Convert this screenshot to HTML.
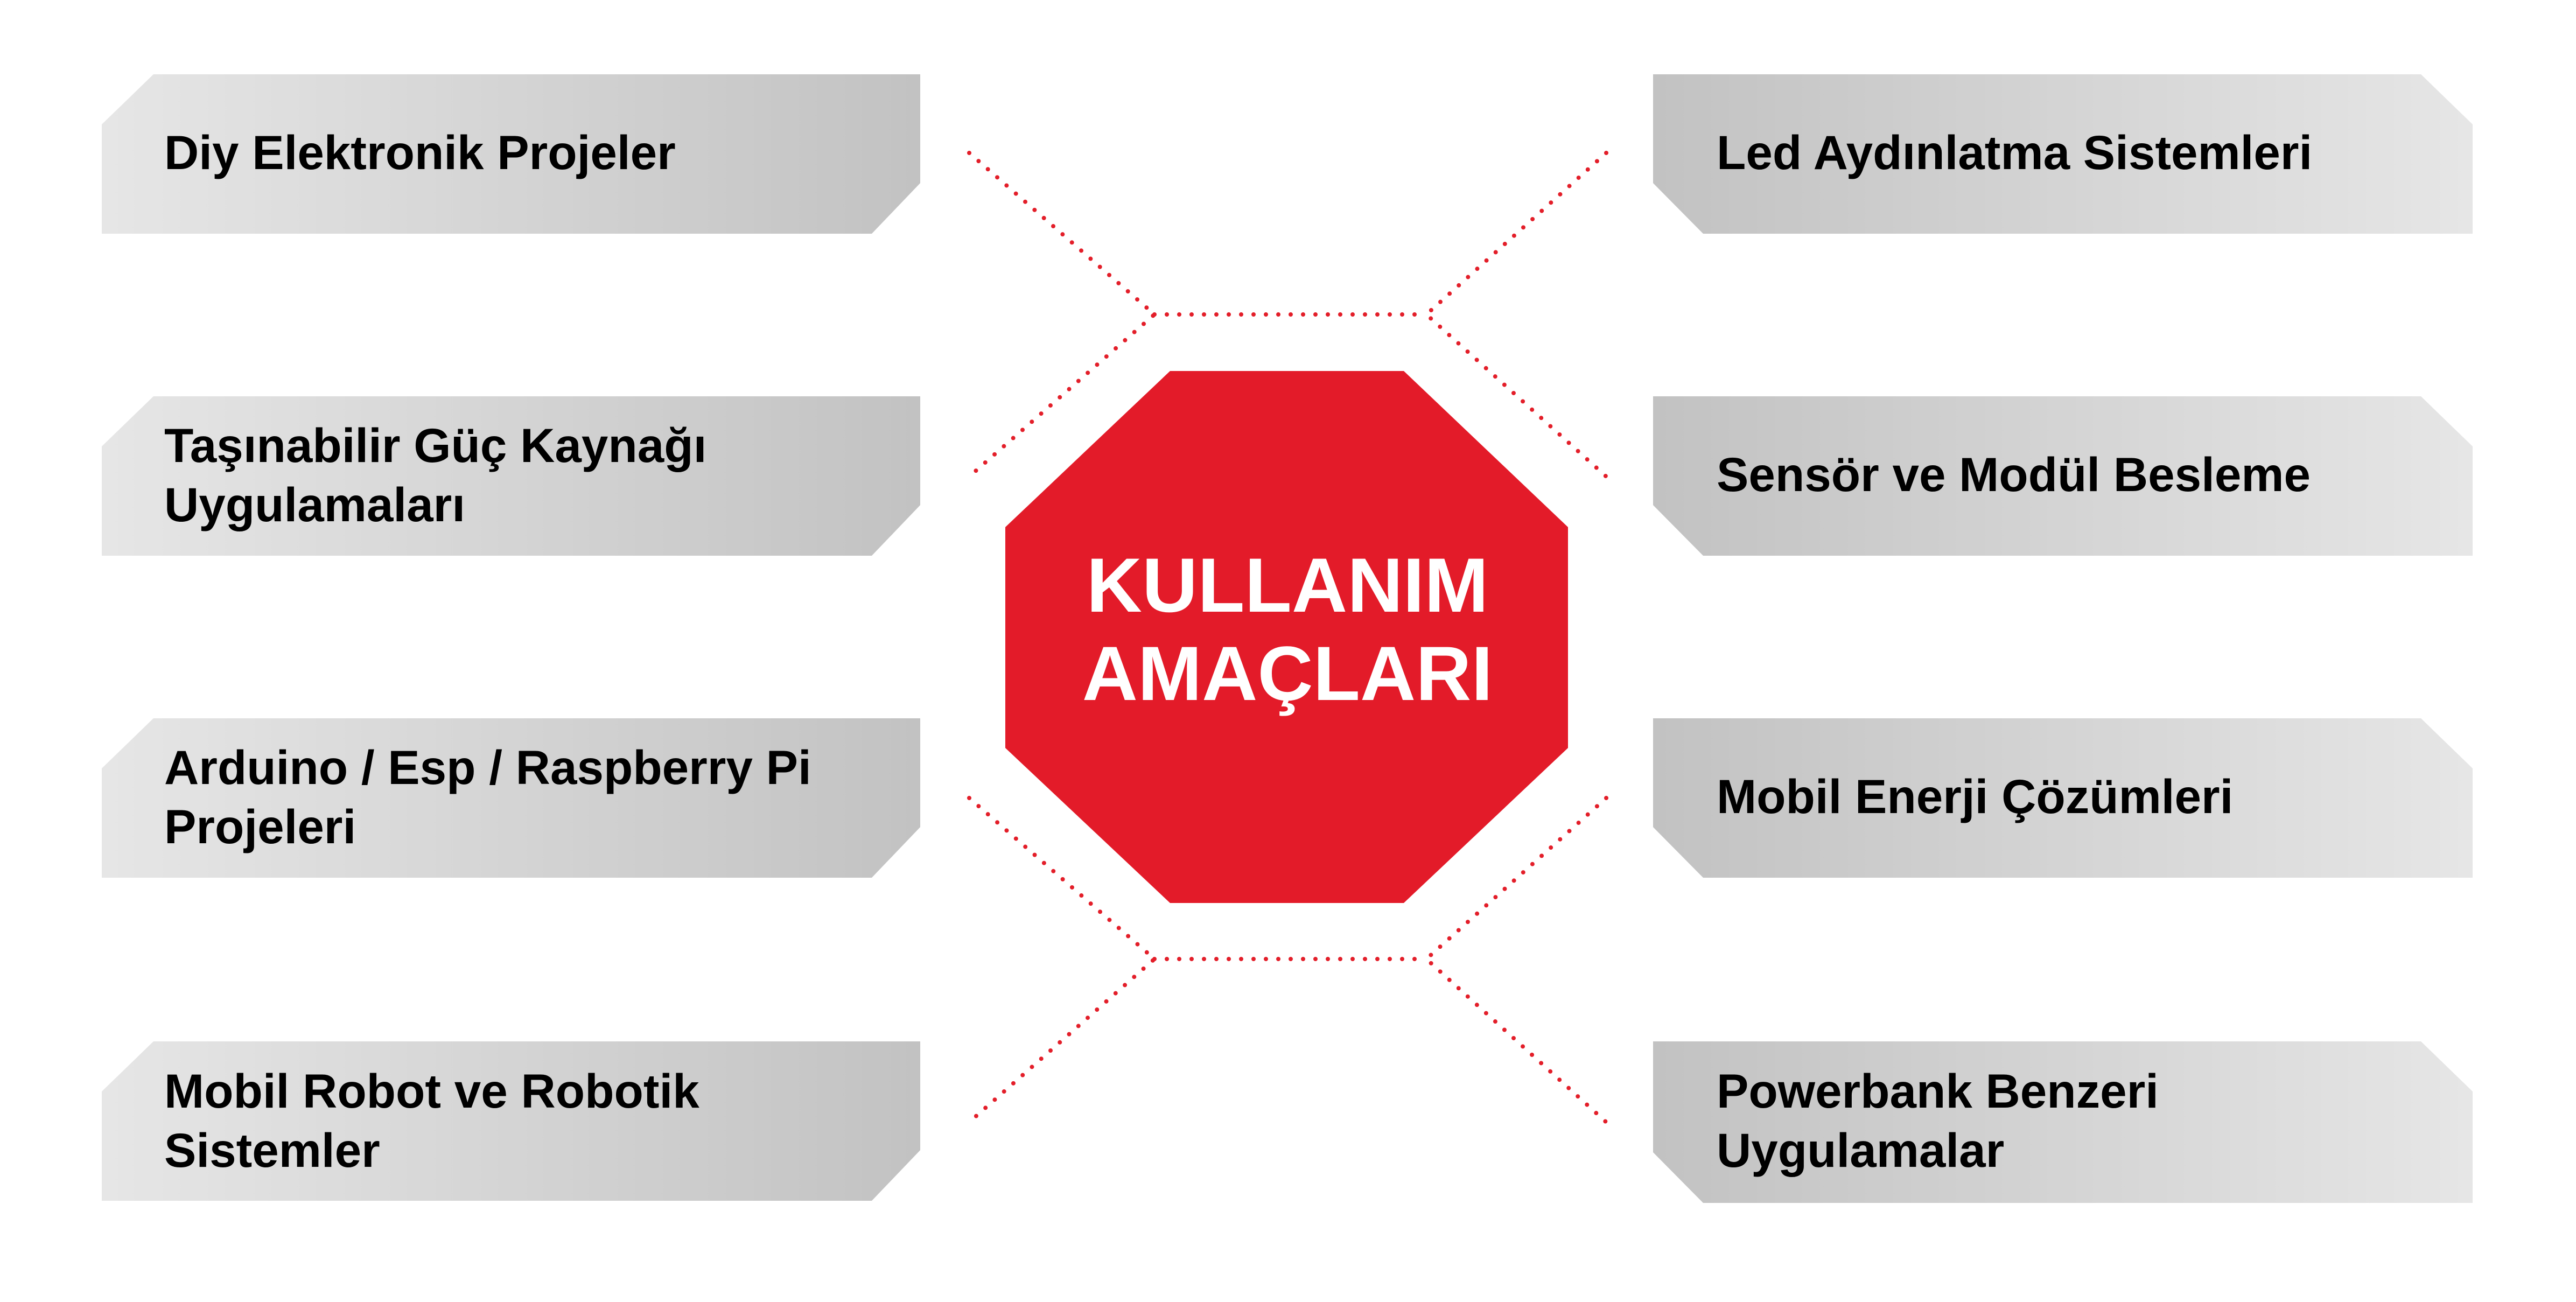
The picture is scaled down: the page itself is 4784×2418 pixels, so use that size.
<!DOCTYPE html>
<html><head><meta charset="utf-8"><style>
html,body{margin:0;padding:0;background:#fff;}
svg{display:block;}
text{font-family:"Liberation Sans",sans-serif;}
</style></head><body>
<svg width="4784" height="2418" viewBox="0 0 4784 2418" xmlns="http://www.w3.org/2000/svg">
<defs>
<linearGradient id="gl" x1="0" x2="1" y1="0" y2="0"><stop offset="0" stop-color="#e6e6e6"/><stop offset="1" stop-color="#c2c2c2"/></linearGradient>
<linearGradient id="gr" x1="0" x2="1" y1="0" y2="0"><stop offset="0" stop-color="#c2c2c2"/><stop offset="1" stop-color="#e6e6e6"/></linearGradient>
</defs>
<g fill="url(#gl)">
<path d="M285 138 H1709 V340 L1619 434 H189 V231 Z"/>
<path d="M285 736 H1709 V938 L1619 1032 H189 V829 Z"/>
<path d="M285 1334 H1709 V1536 L1619 1630 H189 V1427 Z"/>
<path d="M285 1934 H1709 V2136 L1619 2230 H189 V2027 Z"/>
</g>
<g fill="url(#gr)">
<path d="M3070 138 H4496 L4592 231 V434 H3163 L3070 340 Z"/>
<path d="M3070 736 H4496 L4592 829 V1032 H3163 L3070 938 Z"/>
<path d="M3070 1334 H4496 L4592 1427 V1630 H3163 L3070 1536 Z"/>
<path d="M3070 1934 H4496 L4592 2027 V2234 H3163 L3070 2140 Z"/>
</g>
<g fill="none" stroke="#e31e29" stroke-width="8" stroke-linecap="round" stroke-dasharray="0 23">
<path d="M1800 284 L2144 584 L1800 885"/>
<path d="M2144 584 H2649"/>
<path d="M2983 284 L2649 584 L2983 885"/>
<path d="M1800 1482 L2144 1781 L1800 2084"/>
<path d="M2144 1781 H2649"/>
<path d="M2983 1482 L2649 1781 L2983 2084"/>
</g>
<path d="M2173 689 H2607 L2912 979 V1389 L2607 1677 H2173 L1867 1389 V979 Z" fill="#e31b29"/>
<g fill="#fff" font-weight="bold" font-size="143" text-anchor="middle">
<text x="2391" y="1136">KULLANIM</text>
<text x="2391" y="1300">AMAÇLARI</text>
</g>
<g fill="#000" font-weight="bold" font-size="89">
<text x="305" y="314">Diy Elektronik Projeler</text>
<text x="305" y="858">Taşınabilir Güç Kaynağı</text>
<text x="305" y="968">Uygulamaları</text>
<text x="305" y="1456">Arduino / Esp / Raspberry Pi</text>
<text x="305" y="1566">Projeleri</text>
<text x="305" y="2057">Mobil Robot ve Robotik</text>
<text x="305" y="2167">Sistemler</text>
<text x="3188" y="314">Led Aydınlatma Sistemleri</text>
<text x="3188" y="912">Sensör ve Modül Besleme</text>
<text x="3188" y="1510">Mobil Enerji Çözümleri</text>
<text x="3188" y="2057">Powerbank Benzeri</text>
<text x="3188" y="2167">Uygulamalar</text>
</g>
</svg>
</body></html>
